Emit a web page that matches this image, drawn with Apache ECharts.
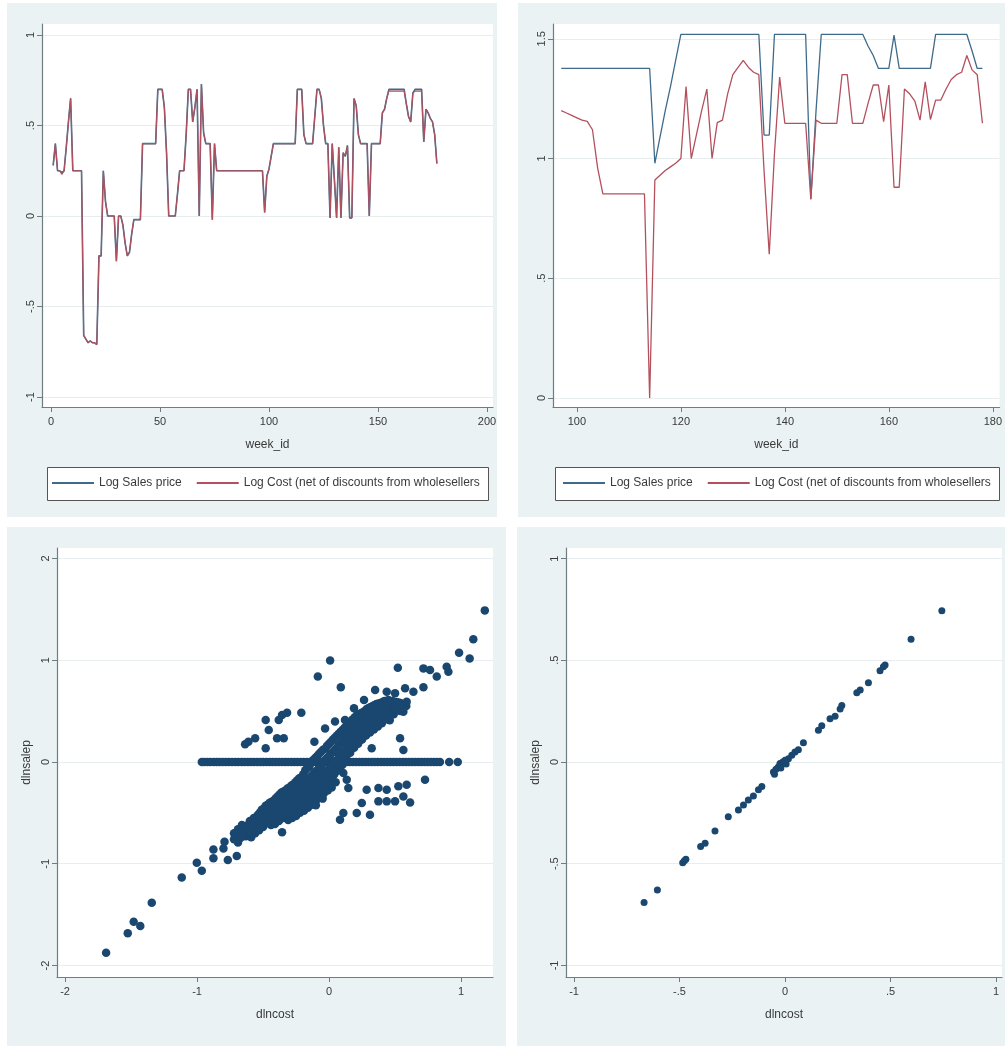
<!DOCTYPE html>
<html><head><meta charset="utf-8">
<script src="https://cdn.jsdelivr.net/npm/echarts@6/dist/echarts.min.js"></script>
<style>html,body{margin:0;padding:0;background:#fff}#c{width:1005px;height:1046px}</style>
</head><body><div id="c"></div>
<script>
// ---------- DATA ----------
const seriesNames = ['Log Sales price', 'Log Cost (net of discounts from wholesellers'];

// Panel 1 (weeks 1..177)
const p1Price = [
0.28,0.40,0.25,0.25,0.24,0.25,0.38,0.52,0.65,0.25,
0.25,0.25,0.25,0.25,-0.66,-0.68,-0.70,-0.69,-0.70,-0.70,
-0.71,-0.22,-0.22,0.25,0.08,0.00,0.00,0.00,0.00,-0.25,
0.00,0.00,-0.05,-0.15,-0.22,-0.20,-0.10,-0.02,-0.02,-0.02,
-0.02,0.40,0.40,0.40,0.40,0.40,0.40,0.40,0.70,0.70,
0.70,0.60,0.35,0.00,0.00,0.00,0.00,0.12,0.25,0.25,
0.25,0.45,0.70,0.70,0.52,0.60,0.70,0.00,0.73,0.46,
0.40,0.40,0.40,-0.02,0.40,0.25,0.25,0.25,0.25,0.25,
0.25,0.25,0.25,0.25,0.25,0.25,0.25,0.25,0.25,0.25,
0.25,0.25,0.25,0.25,0.25,0.25,0.25,0.02,0.22,0.26,
0.33,0.40,0.40,0.40,0.40,0.40,0.40,0.40,0.40,0.40,
0.40,0.40,0.70,0.70,0.70,0.45,0.40,0.40,0.40,0.40,
0.55,0.70,0.70,0.65,0.50,0.40,0.40,-0.01,0.40,0.20,
-0.01,0.38,-0.01,0.35,0.33,0.39,-0.01,-0.01,0.65,0.61,
0.45,0.40,0.40,0.40,0.40,0.00,0.40,0.40,0.40,0.40,
0.40,0.57,0.59,0.65,0.70,0.70,0.70,0.70,0.70,0.70,
0.70,0.70,0.62,0.55,0.52,0.68,0.70,0.70,0.70,0.70,
0.41,0.59,0.57,0.54,0.52,0.45,0.29];
const p1Cost = [
0.28,0.40,0.25,0.25,0.23,0.25,0.38,0.52,0.65,0.25,
0.25,0.25,0.25,0.25,-0.66,-0.68,-0.70,-0.69,-0.70,-0.70,
-0.71,-0.22,-0.22,0.25,0.08,0.00,0.00,0.00,0.00,-0.25,
0.00,0.00,-0.05,-0.15,-0.22,-0.20,-0.10,-0.02,-0.02,-0.02,
-0.02,0.40,0.40,0.40,0.40,0.40,0.40,0.40,0.70,0.70,
0.70,0.60,0.35,0.00,0.00,0.00,0.00,0.12,0.25,0.25,
0.25,0.45,0.70,0.70,0.52,0.60,0.70,0.00,0.73,0.46,
0.40,0.40,0.40,-0.02,0.40,0.25,0.25,0.25,0.25,0.25,
0.25,0.25,0.25,0.25,0.25,0.25,0.25,0.25,0.25,0.25,
0.25,0.25,0.25,0.25,0.25,0.25,0.25,0.02,0.22,0.26,
0.33,0.40,0.40,0.40,0.40,0.40,0.40,0.40,0.40,0.40,
0.40,0.40,0.70,0.70,0.70,0.45,0.40,0.40,0.40,0.40,
0.55,0.70,0.70,0.65,0.50,0.40,0.40,-0.01,0.40,0.20,
-0.01,0.38,-0.01,0.35,0.33,0.39,-0.01,-0.01,0.65,0.61,
0.45,0.40,0.40,0.40,0.40,0.00,0.40,0.40,0.40,0.40,
0.40,0.57,0.59,0.65,0.69,0.69,0.69,0.69,0.69,0.69,
0.69,0.69,0.62,0.55,0.52,0.68,0.69,0.69,0.69,0.69,
0.41,0.59,0.57,0.54,0.52,0.45,0.29];
const p1FirstWeek = 1;

// Panel 2 (weeks 97..178)
const p2Price = [
1.376,1.376,1.376,1.376,1.376,1.376,1.376,1.376,1.376,1.376,
1.376,1.376,1.376,1.376,1.376,1.376,1.376,1.376,0.98,1.09,
1.20,1.30,1.41,1.518,1.518,1.518,1.518,1.518,1.518,1.518,
1.518,1.518,1.518,1.518,1.518,1.518,1.518,1.518,1.518,1.098,
1.098,1.518,1.518,1.518,1.518,1.518,1.518,1.518,0.83,1.20,
1.518,1.518,1.518,1.518,1.518,1.518,1.518,1.518,1.518,1.47,
1.43,1.376,1.376,1.376,1.515,1.376,1.376,1.376,1.376,1.376,
1.376,1.376,1.518,1.518,1.518,1.518,1.518,1.518,1.518,1.45,
1.376,1.376];
const p2Cost = [
1.20,1.19,1.18,1.17,1.16,1.155,1.12,0.96,0.852,0.852,
0.852,0.852,0.852,0.852,0.852,0.852,0.852,0.0,0.91,0.93,
0.95,0.965,0.98,1.0,1.30,1.0,1.10,1.20,1.29,1.0,
1.15,1.16,1.27,1.35,1.38,1.41,1.38,1.36,1.35,0.95,
0.60,1.02,1.34,1.147,1.147,1.147,1.147,1.147,0.83,1.16,
1.147,1.147,1.147,1.147,1.35,1.35,1.147,1.147,1.147,1.23,
1.307,1.307,1.154,1.307,0.88,0.88,1.29,1.27,1.24,1.16,
1.32,1.163,1.244,1.244,1.29,1.33,1.35,1.36,1.43,1.37,
1.35,1.147];
const p2FirstWeek = 97;

// Panel 3: dlncost vs dlnsalep (all products)
const p3ZeroX = [-0.964,-0.945,-0.921,-0.9,-0.874,-0.851,-0.83,-0.805,-0.782,-0.76,-0.735,-0.71,-0.688,-0.662,-0.64,-0.615,-0.592,-0.57,-0.545,-0.52,-0.498,-0.474,-0.45,-0.428,-0.403,-0.38,-0.356,-0.333,-0.31,-0.285,-0.262,-0.24,-0.215,-0.192,-0.168,-0.146,-0.122,-0.1,-0.075,-0.052,-0.03,-0.006,0.018,0.04,0.065,0.088,0.112,0.135,0.158,0.182,0.205,0.23,0.253,0.276,0.3,0.324,0.347,0.37,0.395,0.418,0.442,0.465,0.488,0.512,0.535,0.56,0.583,0.606,0.63,0.654,0.677,0.7,0.724,0.748,0.771,0.795,0.818,0.84,0.91,0.975];
const p3Cluster = [
[-0.72,-0.70],[-0.72,-0.76],[-0.69,-0.66],[-0.69,-0.72],[-0.69,-0.79],[-0.66,-0.62],[-0.66,-0.70],
[-0.63,-0.64],[-0.63,-0.73],[-0.62,-0.68],[-0.60,-0.58],[-0.60,-0.66],[-0.59,-0.74],
[-0.57,-0.55],[-0.57,-0.62],[-0.56,-0.70],[-0.54,-0.52],[-0.54,-0.60],[-0.53,-0.67],
[-0.51,-0.47],[-0.51,-0.56],[-0.50,-0.64],[-0.48,-0.43],[-0.48,-0.50],[-0.47,-0.58],
[-0.45,-0.40],[-0.45,-0.48],[-0.44,-0.57],[-0.44,-0.62],[-0.42,-0.38],[-0.42,-0.46],[-0.41,-0.54],[-0.41,-0.61],
[-0.39,-0.34],[-0.39,-0.42],[-0.38,-0.50],[-0.38,-0.58],[-0.36,-0.30],[-0.36,-0.38],[-0.35,-0.47],[-0.35,-0.55],
[-0.33,-0.28],[-0.33,-0.36],[-0.32,-0.44],[-0.32,-0.52],[-0.31,-0.57],[-0.30,-0.25],[-0.30,-0.32],[-0.29,-0.40],[-0.29,-0.48],[-0.28,-0.55],
[-0.27,-0.22],[-0.27,-0.30],[-0.26,-0.38],[-0.26,-0.46],[-0.25,-0.53],[-0.24,-0.18],[-0.24,-0.27],[-0.23,-0.35],[-0.23,-0.43],[-0.22,-0.50],
[-0.21,-0.15],[-0.21,-0.24],[-0.20,-0.32],[-0.20,-0.40],[-0.19,-0.48],[-0.18,-0.08],[-0.18,-0.20],[-0.17,-0.29],[-0.17,-0.37],[-0.16,-0.45],
[-0.15,-0.05],[-0.15,-0.16],[-0.14,-0.25],[-0.14,-0.34],[-0.13,-0.42],[-0.12,0.02],[-0.12,-0.12],[-0.11,-0.22],[-0.11,-0.30],[-0.10,-0.38],
[-0.09,0.06],[-0.09,-0.08],[-0.08,-0.18],[-0.08,-0.27],[-0.07,-0.35],[-0.06,0.10],[-0.06,-0.04],[-0.05,-0.14],[-0.05,-0.23],[-0.04,-0.31],
[-0.03,0.13],[-0.03,0.02],[-0.02,-0.10],[-0.02,-0.20],[-0.01,-0.28],[0.00,0.18],[0.00,0.06],[0.01,-0.06],[0.01,-0.16],[0.02,-0.25],
[0.03,0.22],[0.03,0.10],[0.04,-0.02],[0.04,-0.12],[0.05,-0.20],[0.06,0.26],[0.06,0.14],[0.07,0.03],[0.07,-0.08],
[0.09,0.30],[0.09,0.19],[0.10,0.08],[0.10,-0.03],[0.12,0.34],[0.12,0.23],[0.13,0.13],[0.13,0.04],
[0.15,0.38],[0.15,0.28],[0.16,0.18],[0.16,0.09],[0.18,0.42],[0.18,0.32],[0.19,0.22],[0.19,0.14],
[0.21,0.46],[0.21,0.36],[0.22,0.26],[0.22,0.18],[0.24,0.48],[0.24,0.39],[0.25,0.30],[0.25,0.22],
[0.27,0.50],[0.27,0.42],[0.28,0.33],[0.28,0.26],[0.30,0.53],[0.30,0.45],[0.31,0.37],[0.31,0.29],
[0.33,0.55],[0.33,0.47],[0.34,0.40],[0.34,0.32],[0.36,0.57],[0.36,0.49],[0.37,0.42],[0.37,0.35],
[0.39,0.58],[0.39,0.51],[0.40,0.44],[0.40,0.38],[0.42,0.60],[0.42,0.53],[0.43,0.46],
[0.45,0.61],[0.45,0.55],[0.46,0.48],[0.46,0.41],[0.48,0.60],[0.48,0.54],[0.49,0.47],
[0.51,0.59],[0.51,0.52],[0.54,0.58],[0.54,0.50],[0.57,0.56]];
const p3ClusterFill = [
[-0.705,-0.73],[-0.675,-0.69],[-0.675,-0.75],[-0.645,-0.66],[-0.645,-0.72],[-0.615,-0.62],[-0.615,-0.70],[-0.585,-0.60],[-0.585,-0.68],
[-0.555,-0.57],[-0.555,-0.64],[-0.525,-0.50],[-0.525,-0.58],[-0.525,-0.65],[-0.495,-0.46],[-0.495,-0.53],[-0.495,-0.60],
[-0.465,-0.42],[-0.465,-0.50],[-0.465,-0.60],[-0.435,-0.39],[-0.435,-0.47],[-0.435,-0.55],[-0.405,-0.36],[-0.405,-0.44],[-0.405,-0.52],[-0.405,-0.59],
[-0.375,-0.32],[-0.375,-0.40],[-0.375,-0.48],[-0.375,-0.56],[-0.345,-0.29],[-0.345,-0.37],[-0.345,-0.45],[-0.345,-0.53],
[-0.315,-0.26],[-0.315,-0.34],[-0.315,-0.42],[-0.315,-0.50],[-0.285,-0.23],[-0.285,-0.31],[-0.285,-0.39],[-0.285,-0.47],[-0.285,-0.53],
[-0.255,-0.20],[-0.255,-0.28],[-0.255,-0.36],[-0.255,-0.44],[-0.255,-0.51],[-0.225,-0.16],[-0.225,-0.25],[-0.225,-0.33],[-0.225,-0.41],[-0.225,-0.49],
[-0.195,-0.12],[-0.195,-0.22],[-0.195,-0.30],[-0.195,-0.38],[-0.195,-0.46],[-0.165,-0.06],[-0.165,-0.18],[-0.165,-0.27],[-0.165,-0.35],[-0.165,-0.43],
[-0.135,-0.01],[-0.135,-0.14],[-0.135,-0.23],[-0.135,-0.32],[-0.135,-0.40],[-0.105,0.04],[-0.105,-0.10],[-0.105,-0.20],[-0.105,-0.28],[-0.105,-0.36],
[-0.075,0.08],[-0.075,-0.06],[-0.075,-0.16],[-0.075,-0.25],[-0.075,-0.33],[-0.045,0.12],[-0.045,0.0],[-0.045,-0.12],[-0.045,-0.21],[-0.045,-0.29],
[-0.015,0.16],[-0.015,0.04],[-0.015,-0.08],[-0.015,-0.18],[-0.015,-0.26],[0.015,0.20],[0.015,0.08],[0.015,-0.04],[0.015,-0.14],[0.015,-0.22],
[0.045,0.24],[0.045,0.12],[0.045,0.01],[0.045,-0.10],[0.075,0.28],[0.075,0.17],[0.075,0.06],[0.075,-0.05],
[0.105,0.32],[0.105,0.21],[0.105,0.10],[0.105,0.01],[0.135,0.36],[0.135,0.26],[0.135,0.16],[0.135,0.07],
[0.165,0.40],[0.165,0.30],[0.165,0.20],[0.165,0.12],[0.195,0.44],[0.195,0.34],[0.195,0.24],[0.195,0.16],
[0.225,0.47],[0.225,0.38],[0.225,0.28],[0.225,0.20],[0.255,0.49],[0.255,0.41],[0.255,0.32],[0.255,0.24],
[0.285,0.52],[0.285,0.44],[0.285,0.35],[0.285,0.28],[0.315,0.54],[0.315,0.46],[0.315,0.38],[0.315,0.31],
[0.345,0.56],[0.345,0.48],[0.345,0.41],[0.345,0.34],[0.375,0.575],[0.375,0.50],[0.375,0.43],[0.375,0.37],
[0.405,0.59],[0.405,0.52],[0.405,0.45],[0.435,0.60],[0.435,0.54],[0.435,0.47],[0.435,0.42],
[0.465,0.60],[0.465,0.54],[0.465,0.46],[0.495,0.59],[0.495,0.53],[0.525,0.585],[0.525,0.51],[0.555,0.57],[0.555,0.52],[0.585,0.55]];
const p3Outliers = [
[1.18,1.49],[1.093,1.206],[0.985,1.074],[1.065,1.016],[0.891,0.937],[0.904,0.887],[0.816,0.84],[0.765,0.905],[0.715,0.92],
[0.008,0.998],[0.521,0.926],[-0.085,0.84],[0.089,0.734],[0.349,0.707],[0.437,0.691],[0.50,0.675],[0.576,0.724],[0.639,0.691],
[0.715,0.734],[0.588,0.593],[0.563,0.494],[0.265,0.609],[0.189,0.527],[-0.21,0.485],[-0.318,0.485],[-0.356,0.462],[-0.381,0.413],
[-0.48,0.413],[-0.457,0.315],[-0.394,0.233],[-0.343,0.233],[-0.611,0.20],[-0.56,0.233],[-0.636,0.174],[-0.48,0.135],[-0.111,0.20],
[0.323,0.135],[0.538,0.233],[0.563,0.118],[-0.03,0.33],[0.045,0.397],[0.121,0.413],
[0.727,-0.174],[0.588,-0.223],[0.525,-0.239],[0.437,-0.272],[0.374,-0.256],[0.285,-0.272],[0.146,-0.256],[0.374,-0.387],
[0.437,-0.387],[0.50,-0.387],[0.563,-0.338],[0.614,-0.397],[0.248,-0.403],[0.21,-0.501],[0.31,-0.518],[0.108,-0.501],
[0.083,-0.567],[0.134,-0.174],[0.108,-0.108],[-0.0485,-0.36],[-0.10,-0.426],[-0.356,-0.69],
[-1.689,-1.874],[-1.525,-1.684],[-1.48,-1.569],[-1.43,-1.612],[-1.343,-1.383],[-1.116,-1.134],[-1.002,-0.99],[-0.964,-1.068],
[-0.876,-0.859],[-0.876,-0.947],[-0.80,-0.849],[-0.792,-0.783],[-0.767,-0.963],[-0.699,-0.924],[-0.686,-0.701],[-0.66,-0.734]];

// Panel 4: dlncost vs dlnsalep (single product)
const p4Points = [
[-0.668,-0.691],[-0.605,-0.629],[-0.485,-0.495],[-0.477,-0.485],[-0.47,-0.478],[-0.40,-0.416],[-0.379,-0.40],
[-0.332,-0.339],[-0.269,-0.269],[-0.221,-0.236],[-0.197,-0.211],[-0.174,-0.187],[-0.15,-0.167],[-0.126,-0.137],
[-0.11,-0.121],[-0.055,-0.049],[-0.05,-0.06],[-0.043,-0.036],[-0.032,-0.025],[-0.024,-0.008],[-0.02,-0.03],
[-0.011,0.0],[0.0,0.008],[0.005,-0.01],[0.016,0.016],[0.032,0.033],[0.047,0.049],[0.063,0.06],[0.087,0.094],
[0.158,0.156],[0.174,0.178],[0.213,0.212],[0.237,0.225],[0.261,0.261],[0.269,0.278],[0.34,0.34],[0.356,0.354],
[0.395,0.39],[0.45,0.449],[0.466,0.468],[0.474,0.477],[0.597,0.604],[0.743,0.744]];

// Tick values
const p1XTicks = [0, 50, 100, 150, 200];
const p1YTicks = [-1, -0.5, 0, 0.5, 1];
const p2XTicks = [100, 120, 140, 160, 180];
const p2YTicks = [0, 0.5, 1, 1.5];
const p3XTicks = [-2, -1, 0, 1];
const p3YTicks = [-2, -1, 0, 1, 2];
const p4XTicks = [-1, -0.5, 0, 0.5, 1];
const p4YTicks = [-1, -0.5, 0, 0.5, 1];

// ---------- CHART ----------
const FONT = '"Liberation Sans", Arial, sans-serif';
const TXT = '#3a3a3a';
const AX = '#6f7c82';
const BG = '#eaf2f3';
const GRIDC = '#e8eef0';
const BLUE = '#3f6b8a';
const RED = '#b4505e';
const NAVY = '#1a476f';

function fmt(v) {
  const s = String(Math.round(v * 100) / 100);
  return s.replace(/^(-?)0\./, '$1.');
}
function toPairs(first, arr) { return arr.map((v, i) => [first + i, v]); }

function xAx(gi, min, max, ticks, name) {
  return {
    type: 'value', gridIndex: gi, min: min, max: max,
    name: name, nameLocation: 'middle', nameGap: 32,
    nameTextStyle: { color: TXT, fontSize: 12, fontFamily: FONT },
    axisLine: { show: true, onZero: false, lineStyle: { color: AX, width: 1.2 } },
    axisTick: { show: true, length: 5, customValues: ticks, lineStyle: { color: AX } },
    axisLabel: { customValues: ticks, formatter: fmt, color: TXT, fontSize: 11, margin: 9, fontFamily: FONT },
    splitLine: { show: false }
  };
}
function yAx(gi, min, max, ticks, name) {
  return {
    type: 'value', gridIndex: gi, min: min, max: max,
    name: name || '', nameLocation: 'middle', nameGap: 24,
    nameTextStyle: { color: TXT, fontSize: 12, fontFamily: FONT },
    axisLine: { show: true, onZero: false, lineStyle: { color: AX, width: 1.2 } },
    axisTick: { show: true, length: 5, customValues: ticks, lineStyle: { color: AX } },
    axisLabel: { customValues: ticks, formatter: fmt, color: TXT, fontSize: 11, margin: 6, rotate: 90, fontFamily: FONT },
    splitLine: { show: true, lineStyle: { color: GRIDC, width: 1 } }
  };
}
const gridBase = { show: true, backgroundColor: '#ffffff', borderWidth: 0, containLabel: false };

const option = {
  animation: false,
  backgroundColor: '#ffffff',
  graphic: { elements: [
    { type: 'rect', z: -10, silent: true, shape: { x: 7, y: 3, width: 490, height: 514 }, style: { fill: BG } },
    { type: 'rect', z: -10, silent: true, shape: { x: 518, y: 3, width: 487, height: 514 }, style: { fill: BG } },
    { type: 'rect', z: -10, silent: true, shape: { x: 7, y: 527, width: 499, height: 519 }, style: { fill: BG } },
    { type: 'rect', z: -10, silent: true, shape: { x: 517, y: 527, width: 488, height: 519 }, style: { fill: BG } },
    { type: 'rect', z: 1, silent: true, shape: { x: 47.5, y: 467.5, width: 441, height: 33 }, style: { fill: '#ffffff', stroke: '#555', lineWidth: 1 } },
    { type: 'rect', z: 1, silent: true, shape: { x: 555.5, y: 467.5, width: 444, height: 33 }, style: { fill: '#ffffff', stroke: '#555', lineWidth: 1 } }
  ]},
  legend: [
    { left: 52, top: 477, data: seriesNames, icon: 'rect', itemWidth: 42, itemHeight: 2, itemGap: 15, padding: 0, selectedMode: false,
      textStyle: { fontSize: 12, color: TXT, fontFamily: FONT } },
    { left: 563, top: 477, data: seriesNames, icon: 'rect', itemWidth: 42, itemHeight: 2, itemGap: 15, padding: 0, selectedMode: false,
      textStyle: { fontSize: 12, color: TXT, fontFamily: FONT } }
  ],
  grid: [
    Object.assign({ left: 42, top: 24, width: 451, height: 383 }, gridBase),
    Object.assign({ left: 553, top: 24, width: 449, height: 383 }, gridBase),
    Object.assign({ left: 57, top: 548, width: 436, height: 429 }, gridBase),
    Object.assign({ left: 566, top: 548, width: 436, height: 429 }, gridBase)
  ],
  xAxis: [
    xAx(0, -4.13, 202.75, p1XTicks, 'week_id'),
    xAx(1, 95.41, 181.3, p2XTicks, 'week_id'),
    xAx(2, -2.061, 1.242, p3XTicks, 'dlncost'),
    xAx(3, -1.038, 1.028, p4XTicks, 'dlncost')
  ],
  yAxis: [
    yAx(0, -1.055, 1.061, p1YTicks),
    yAx(1, -0.0376, 1.5616, p2YTicks),
    yAx(2, -2.113, 2.103, p3YTicks, 'dlnsalep'),
    yAx(3, -1.057, 1.052, p4YTicks, 'dlnsalep')
  ],
  series: [
    { name: seriesNames[0], type: 'line', xAxisIndex: 0, yAxisIndex: 0, data: toPairs(p1FirstWeek, p1Price), symbol: 'none', color: BLUE, lineStyle: { width: 1.6, color: BLUE } },
    { name: seriesNames[1], type: 'line', xAxisIndex: 0, yAxisIndex: 0, data: toPairs(p1FirstWeek, p1Cost), symbol: 'none', color: RED, lineStyle: { width: 1.1, color: RED } },
    { name: seriesNames[0], type: 'line', xAxisIndex: 1, yAxisIndex: 1, data: toPairs(p2FirstWeek, p2Price), symbol: 'none', color: BLUE, lineStyle: { width: 1.3, color: BLUE } },
    { name: seriesNames[1], type: 'line', xAxisIndex: 1, yAxisIndex: 1, data: toPairs(p2FirstWeek, p2Cost), symbol: 'none', color: RED, lineStyle: { width: 1.3, color: RED } },
    { name: 'p3', type: 'scatter', xAxisIndex: 2, yAxisIndex: 2, symbolSize: 8.5, itemStyle: { color: NAVY, opacity: 1, borderWidth: 0 },
      data: p3ZeroX.map(x => [x, 0]).concat(p3Cluster, p3ClusterFill, p3Outliers) },
    { name: 'p4', type: 'scatter', xAxisIndex: 3, yAxisIndex: 3, symbolSize: 7, itemStyle: { color: NAVY, opacity: 1, borderWidth: 0 },
      data: p4Points }
  ]
};
const chart = echarts.init(document.getElementById('c'), null, { renderer: 'canvas' });
chart.setOption(option);
</script></body></html>
